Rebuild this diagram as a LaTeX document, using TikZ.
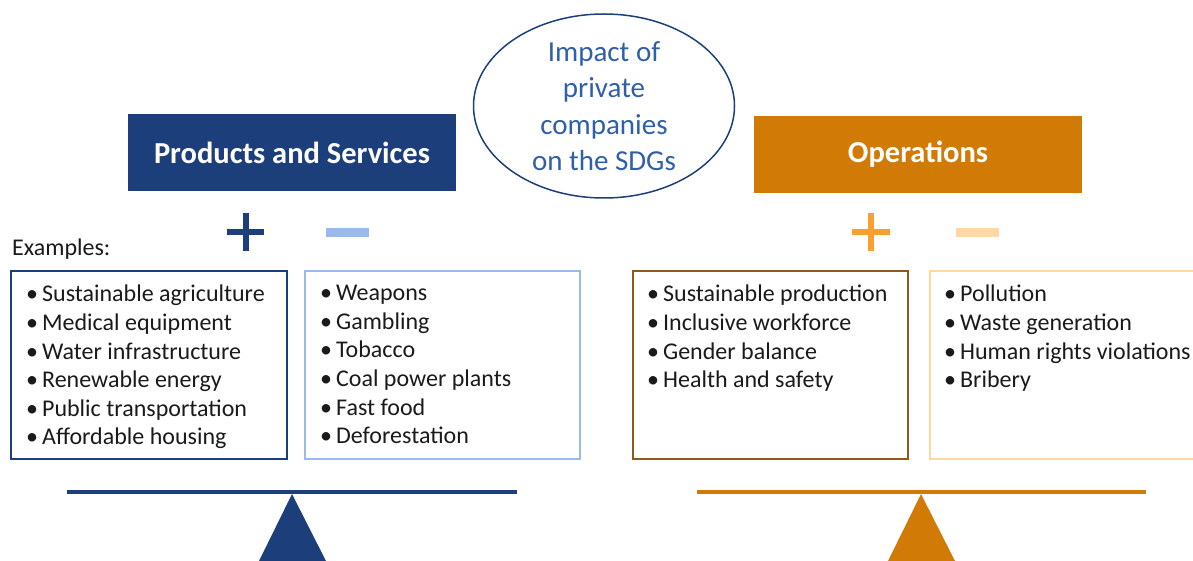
\documentclass[tikz,border=0pt]{standalone}
\usepackage{fontspec}
\setmainfont{Carlito}
\usetikzlibrary{shapes.geometric}
\definecolor{navy}{HTML}{1C3F7C}
\definecolor{titleblue}{HTML}{2F5FA8}
\definecolor{lightblue}{HTML}{9BBAE9}
\definecolor{orng}{HTML}{D17A06}
\definecolor{brightorng}{HTML}{F9A030}
\definecolor{lightorng}{HTML}{FDD8A5}
\definecolor{brownline}{HTML}{8C5A1F}
\definecolor{txt}{HTML}{1A1A1A}
\newcommand\bl{\textbullet\hspace{4pt}}
\begin{document}
\begin{tikzpicture}[x=1pt,y=-1pt,
  header/.style={minimum width=328pt, minimum height=77pt, inner sep=0pt, text=white,
    font=\bfseries\fontsize{30.5}{36}\selectfont},
  listbox/.style={draw, line width=2pt, minimum width=#1, minimum height=188pt, inner sep=0pt},
  listtext/.style={anchor=north west, inner sep=0pt, align=left, text=txt,
    font=\fontsize{24}{28.6}\selectfont},
]
\useasboundingbox (0,0) rectangle (1193,561);
% title ellipse
\node[ellipse, draw=navy, line width=1.5pt, minimum width=261pt, minimum height=184pt,
  inner sep=0pt, align=center, text=titleblue, font=\fontsize{29}{36.5}\selectfont]
  (title) at (604,106) {Impact of\\private\\companies\\on the SDGs};
% headers
\node[header, fill=navy] (ps) at (292,152.5) {Products and Services};
\node[header, fill=orng] (ops) at (918,154.5) {Operations};
% plus / minus
\fill[navy] (227,229.5) rectangle (264,235.5);
\fill[navy] (242.5,213) rectangle (248.5,251);
\fill[lightblue] (326,228.5) rectangle (369,237.5);
\fill[brightorng] (852,229) rectangle (890,235);
\fill[brightorng] (868,213) rectangle (874,251);
\fill[lightorng] (956,228.5) rectangle (999,237.5);
% examples label
\node[anchor=west, inner sep=0pt, text=txt, font=\fontsize{24}{28}\selectfont] (ex) at (12,249) {Examples:};
% boxes
\node[listbox=276pt, draw=navy] (b1) at (149,365) {};
\node[listbox=275pt, draw=lightblue] (b2) at (442.5,365) {};
\node[listbox=275pt, draw=brownline] (b3) at (770.5,365) {};
\node[listbox=280pt, draw=lightorng] (b4) at (1070,365) {};
\node[listtext] (t1) at (26,285) {\bl Sustainable agriculture\\\bl Medical equipment\\\bl Water infrastructure\\\bl Renewable energy\\\bl Public transportation\\\bl Affordable housing};
\node[listtext] (t2) at (320,285) {\bl Weapons\\\bl Gambling\\\bl Tobacco\\\bl Coal power plants\\\bl Fast food\\\bl Deforestation};
\node[listtext] (t3) at (647,285) {\bl Sustainable production\\\bl Inclusive workforce\\\bl Gender balance\\\bl Health and safety};
\node[listtext] (t4) at (944,285) {\bl Pollution\\\bl Waste generation\\\bl Human rights violations\\\bl Bribery};
% scales
\draw[navy, line width=4pt] (67,492) -- (517,492);
\fill[navy] (292,494) -- (259,561) -- (326,561) -- cycle;
\draw[orng, line width=4pt] (697,492) -- (1146,492);
\fill[orng] (921,494) -- (888,561) -- (955,561) -- cycle;
\end{tikzpicture}
\end{document}
